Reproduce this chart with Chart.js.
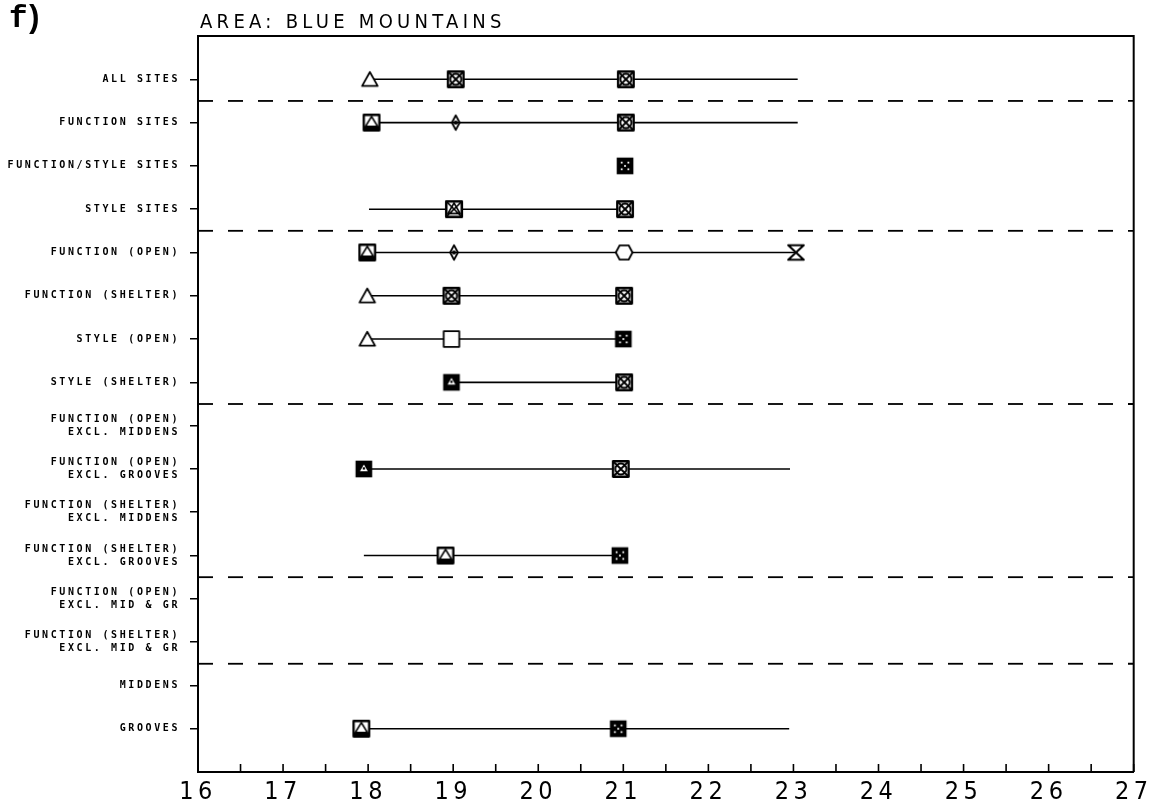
<!DOCTYPE html>
<html>
<head>
<meta charset="utf-8">
<title>Area: Blue Mountains</title>
<script src="https://cdn.jsdelivr.net/npm/chart.js@4.4.1/dist/chart.umd.min.js"></script>
<style>
  html, body { margin: 0; padding: 0; background: #fff; }
  #chart { display: block; }
</style>
</head>
<body>
<canvas id="chart" width="1153" height="810"></canvas>
<script>
// données (f) Blue Mountains
const panelLabel = 'f)';
const chartTitle = 'AREA: BLUE MOUNTAINS';

const categories = [
  'ALL SITES',
  'FUNCTION SITES',
  'FUNCTION/STYLE SITES',
  'STYLE SITES',
  'FUNCTION (OPEN)',
  'FUNCTION (SHELTER)',
  'STYLE (OPEN)',
  'STYLE (SHELTER)',
  ['FUNCTION (OPEN)', 'EXCL. MIDDENS'],
  ['FUNCTION (OPEN)', 'EXCL. GROOVES'],
  ['FUNCTION (SHELTER)', 'EXCL. MIDDENS'],
  ['FUNCTION (SHELTER)', 'EXCL. GROOVES'],
  ['FUNCTION (OPEN)', 'EXCL. MID & GR'],
  ['FUNCTION (SHELTER)', 'EXCL. MID & GR'],
  'MIDDENS',
  'GROOVES'
];

// étendue de chaque ligne (trait horizontal)
const rangeLow  = [18.02, 18.04, null, 18.01, 17.99, 17.99, 17.99, 18.98, null, 17.95, null, 17.95, null, null, null, 17.92];
const rangeHigh = [23.05, 23.05, null, 21.02, 23.03, 21.01, 21.0, 21.01, null, 22.96, null, 20.96, null, null, null, 22.95];

// symboles : première colonne (~18)
const firstValues  = [18.02, 18.04, null, null, 17.99, 17.99, 17.99, null, null, 17.95, null, null, null, null, null, 17.92];
const firstSymbols = ['tri', 'boxTri', null, null, 'boxTri', 'tri', 'tri', null, null, 'boxDark', null, null, null, null, null, 'boxTri'];
// deuxième colonne (~19)
const midValues  = [19.03, 19.03, null, 19.01, 19.01, 18.98, 18.98, 18.98, null, null, null, 18.91, null, null, null, null];
const midSymbols = ['boxX', 'diamond', null, 'boxMix', 'diamond', 'boxX', 'square', 'boxDark', null, null, null, 'boxTri', null, null, null, null];
// troisième colonne (~21)
const lastValues  = [21.03, 21.03, 21.02, 21.02, 21.01, 21.01, 21.0, 21.01, null, 20.97, null, 20.96, null, null, null, 20.94];
const lastSymbols = ['boxX', 'boxX', 'boxFill', 'boxX', 'hex', 'boxX', 'boxFill', 'boxX', null, 'boxX', null, 'boxFill', null, null, null, 'boxFill'];
// bout de ligne (~23)
const endValues  = [null, null, null, null, 23.03, null, null, null, null, null, null, null, null, null, null, null];
const endSymbols = [null, null, null, null, 'hourglass', null, null, null, null, null, null, null, null, null, null, null];

// lignes pointillées de séparation
const separators = [1.5, 4.5, 8.5, 12.5, 14.5];

const xMin = 16;
const xMax = 27;

// ---- dessins des symboles (style plotter) ----
function makeSymbol(draw) {
  const c = document.createElement('canvas');
  c.width = 20;
  c.height = 20;
  const g = c.getContext('2d');
  g.scale(20 / 18, 20 / 18);
  g.strokeStyle = '#000';
  g.fillStyle = '#fff';
  g.lineWidth = 1.6;
  g.lineJoin = 'round';
  draw(g);
  return c;
}

function boxPath(g) {
  g.beginPath();
  g.rect(2, 2, 14, 14);
}

const symbols = {
  tri: makeSymbol(g => {
    g.beginPath();
    g.moveTo(9, 2.5); g.lineTo(16, 15); g.lineTo(2, 15); g.closePath();
    g.fill(); g.stroke();
  }),
  square: makeSymbol(g => {
    boxPath(g); g.fill(); g.stroke();
  }),
  boxX: makeSymbol(g => {
    boxPath(g); g.fill();
    g.lineWidth = 2.1; g.stroke();
    g.lineWidth = 1.7;
    g.beginPath();
    g.moveTo(2, 2); g.lineTo(16, 16); g.moveTo(16, 2); g.lineTo(2, 16);
    g.stroke();
    g.beginPath(); g.arc(9, 9, 5, 0, Math.PI * 2); g.stroke();
  }),
  boxTri: makeSymbol(g => {
    boxPath(g); g.fill();
    g.lineWidth = 2.1; g.stroke();
    g.lineWidth = 1.5;
    g.beginPath();
    g.moveTo(9, 3.5); g.lineTo(14.5, 12.5); g.lineTo(3.5, 12.5); g.closePath();
    g.stroke();
    g.fillStyle = '#000';
    g.fillRect(2, 12.5, 14, 3.5);
  }),
  boxMix: makeSymbol(g => {
    boxPath(g); g.fill();
    g.lineWidth = 2.3; g.stroke();
    g.lineWidth = 1.5;
    g.beginPath();
    g.moveTo(2, 2); g.lineTo(16, 16); g.moveTo(16, 2); g.lineTo(2, 16);
    g.moveTo(9, 3.5); g.lineTo(14.5, 13); g.lineTo(3.5, 13); g.closePath();
    g.stroke();
  }),
  boxDark: makeSymbol(g => {
    g.fillStyle = '#000';
    g.fillRect(1.5, 1.5, 15, 15);
    g.fillStyle = '#fff';
    g.beginPath();
    g.moveTo(9, 5); g.lineTo(12.5, 11); g.lineTo(5.5, 11); g.closePath();
    g.fill();
    g.fillStyle = '#000';
    g.fillRect(8, 7.5, 2, 2);
  }),
  boxFill: makeSymbol(g => {
    g.fillStyle = '#000';
    g.fillRect(1.5, 1.5, 15, 15);
    g.fillStyle = '#fff';
    [[6, 6], [12, 6], [9, 9], [6, 12], [12, 12]].forEach(p => {
      g.fillRect(p[0] - 0.8, p[1] - 0.8, 1.6, 1.6);
    });
  }),
  diamond: makeSymbol(g => {
    g.fillStyle = '#000';
    g.beginPath();
    g.moveTo(9, 2.5); g.lineTo(12.5, 9); g.lineTo(9, 15.5); g.lineTo(5.5, 9); g.closePath();
    g.stroke();
    g.beginPath(); g.arc(9, 9, 1.8, 0, Math.PI * 2); g.fill();
  }),
  hex: makeSymbol(g => {
    g.beginPath();
    g.moveTo(1.5, 9); g.lineTo(5, 2.5); g.lineTo(13, 2.5); g.lineTo(16.5, 9);
    g.lineTo(13, 15.5); g.lineTo(5, 15.5); g.closePath();
    g.fill(); g.stroke();
  }),
  hourglass: makeSymbol(g => {
    g.lineWidth = 1.9;
    g.beginPath();
    g.moveTo(2, 2.5); g.lineTo(16, 2.5); g.lineTo(2, 15.5); g.lineTo(16, 15.5); g.closePath();
    g.fill(); g.stroke();
  })
};

// ---- construction des datasets ----
function separatorDatasets() {
  return separators.map(s => ({
    type: 'line',
    showLine: true,
    data: [{ x: xMin, y: s }, { x: xMax, y: s }],
    borderColor: '#000',
    borderWidth: 1.8,
    borderDash: [15, 15],
    pointRadius: 0,
    order: 3
  }));
}

function rangeDatasets() {
  const sets = [];
  rangeLow.forEach((low, i) => {
    if (low == null) return;
    sets.push({
      type: 'line',
      showLine: true,
      data: [{ x: low, y: i + 1 }, { x: rangeHigh[i], y: i + 1 }],
      borderColor: '#000',
      borderWidth: 1.6,
      pointRadius: 0,
      order: 2
    });
  });
  return sets;
}

function markerDataset(values, syms) {
  const data = [];
  const styles = [];
  values.forEach((v, i) => {
    if (v == null) return;
    data.push({ x: v, y: i + 1 });
    styles.push(symbols[syms[i]]);
  });
  return {
    type: 'scatter',
    data: data,
    pointStyle: styles,
    pointRadius: 10,
    order: 0
  };
}

// espacement des lettres propre à chaque axe
function spacedLabels(scale, spacing) {
  if (!scale || scale._spacing === spacing) return;
  const orig = Object.getPrototypeOf(scale).drawLabels;
  scale.drawLabels = function (area) {
    const ctx = this.ctx;
    ctx.save();
    ctx.letterSpacing = spacing;
    orig.call(this, area);
    ctx.restore();
  };
  scale._spacing = spacing;
}

const framePlugin = {
  id: 'frame',
  beforeDraw(chart) {
    spacedLabels(chart.scales.y, '2.6px');
    spacedLabels(chart.scales.x, '4.5px');
  },
  afterDraw(chart) {
    const { ctx, chartArea: a, scales } = chart;
    ctx.save();
    ctx.strokeStyle = '#000';
    ctx.lineWidth = 2;
    ctx.beginPath();
    ctx.moveTo(a.left, a.top);
    ctx.lineTo(a.right, a.top);
    ctx.lineTo(a.right, a.bottom);
    ctx.stroke();

    // petites graduations vers l'intérieur sur l'axe des x
    ctx.lineWidth = 1.6;
    ctx.beginPath();
    scales.x.ticks.forEach(t => {
      const px = scales.x.getPixelForValue(t.value);
      ctx.moveTo(px, a.bottom);
      ctx.lineTo(px, a.bottom - 8);
    });
    ctx.stroke();

    ctx.fillStyle = '#000';
    ctx.textBaseline = 'alphabetic';
    ctx.font = 'bold 31px "Liberation Mono", "DejaVu Sans Mono", monospace';
    ctx.letterSpacing = '-3px';
    ctx.fillText(panelLabel, 9, 27);

    ctx.letterSpacing = '4.3px';
    ctx.font = '20px "DejaVu Sans Condensed", "DejaVu Sans", sans-serif';
    ctx.fillText(chartTitle, a.left + 2, 28);
    ctx.restore();
  }
};

const chart = new Chart(document.getElementById('chart'), {
  type: 'scatter',
  data: {
    datasets: [
      ...separatorDatasets(),
      ...rangeDatasets(),
      markerDataset(firstValues, firstSymbols),
      markerDataset(midValues, midSymbols),
      markerDataset(lastValues, lastSymbols),
      markerDataset(endValues, endSymbols)
    ]
  },
  options: {
    responsive: false,
    animation: false,
    devicePixelRatio: 1,
    layout: { padding: { top: 36, right: 15, left: 0, bottom: 0 } },
    plugins: {
      legend: { display: false },
      tooltip: { enabled: false },
      title: { display: false }
    },
    scales: {
      x: {
        type: 'linear',
        min: xMin,
        max: xMax,
        afterFit: s => { s.height = 38; },
        ticks: {
          stepSize: 0.5,
          autoSkip: false,
          maxRotation: 0,
          padding: 5,
          color: '#000',
          font: { family: '"Liberation Sans Narrow", "DejaVu Sans Condensed", sans-serif', size: 25 },
          callback: v => (Number.isInteger(v) ? String(v) : '')
        },
        grid: { drawOnChartArea: false, drawTicks: false },
        border: { display: true, color: '#000', width: 2 }
      },
      y: {
        type: 'linear',
        min: 0,
        max: 17,
        reverse: true,
        afterFit: s => { s.width = 198; },
        afterBuildTicks: s => {
          s.ticks = categories.map((c, i) => ({ value: i + 1 }));
        },
        ticks: {
          autoSkip: false,
          padding: 10,
          color: '#000',
          font: { family: '"DejaVu Sans Mono", monospace', size: 10, weight: 'bold', lineHeight: 1.3 },
          callback: v => categories[v - 1]
        },
        grid: { drawOnChartArea: false, tickLength: 8, color: '#000', lineWidth: 1.5 },
        border: { display: true, color: '#000', width: 2 }
      }
    }
  },
  plugins: [framePlugin]
});
</script>
</body>
</html>
